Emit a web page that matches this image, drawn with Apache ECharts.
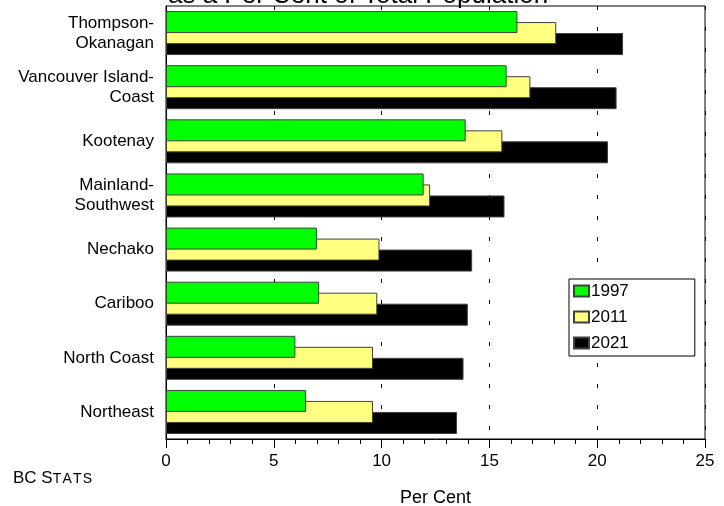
<!DOCTYPE html>
<html>
<head>
<meta charset="utf-8">
<script src="https://cdn.jsdelivr.net/npm/echarts@6/dist/echarts.min.js"></script>
<style>
  html, body { margin: 0; padding: 0; background: #fff; }
  #chart { width: 724px; height: 506px; }
</style>
</head>
<body>
<div id="chart"></div>
<script>
// Regions of British Columbia, top to bottom
const regions = [
  'Thompson-\nOkanagan',
  'Vancouver Island-\nCoast',
  'Kootenay',
  'Mainland-\nSouthwest',
  'Nechako',
  'Cariboo',
  'North Coast',
  'Northeast'
];

// Per cent of total population, by year
const pct1997 = [16.3, 15.8, 13.9, 11.95, 7.0, 7.1, 6.0, 6.5];
const pct2011 = [18.1, 16.9, 15.6, 12.25, 9.9, 9.8, 9.6, 9.6];
const pct2021 = [21.2, 20.9, 20.5, 15.7, 14.2, 14.0, 13.8, 13.5];

const years = ['1997', '2011', '2021'];
const colours = ['#00ff00', '#ffff80', '#000000'];
const xTicks = { min: 0, max: 25, step: 5 };

const FONT = 'Liberation Sans, Arial, sans-serif';

const chart = echarts.init(document.getElementById('chart'), null, { renderer: 'canvas' });

function barSeries(name, data, colour, z) {
  return {
    name: name,
    type: 'bar',
    data: data,
    barWidth: 22,
    barGap: '-50%',
    z: z,
    itemStyle: { color: colour, borderColor: '#404040', borderWidth: 1 },
    emphasis: { disabled: true }
  };
}

chart.setOption({
  animation: false,
  backgroundColor: '#ffffff',
  textStyle: { fontFamily: FONT },
  grid: {
    left: 166, right: 19, top: 6, bottom: 67,
    outerBoundsMode: 'none',
    containLabel: false,
    show: true, borderColor: '#000', borderWidth: 1, backgroundColor: 'transparent'
  },
  legend: {
    data: years,
    orient: 'vertical',
    left: 569, top: 279,
    padding: [3, 66, 4, 4],
    itemWidth: 15, itemHeight: 11, itemGap: 8,
    icon: 'rect',
    backgroundColor: '#fff',
    borderColor: '#000', borderWidth: 1,
    textStyle: { fontSize: 17, lineHeight: 18, color: '#000', fontFamily: FONT, padding: [0, 0, 0, -3] }
  },
  xAxis: {
    type: 'value',
    min: xTicks.min, max: xTicks.max, interval: xTicks.step,
    name: 'Per Cent',
    nameLocation: 'middle',
    nameGap: 50,
    nameTextStyle: { fontSize: 18, color: '#000', fontFamily: FONT },
    axisLine: { show: true, lineStyle: { color: '#000', width: 1 } },
    axisTick: { show: true, inside: false, length: 9, lineStyle: { color: '#000' } },
    minorTick: { show: true, splitNumber: 5, length: 5, lineStyle: { color: '#000' } },
    axisLabel: { fontSize: 17, color: '#000', margin: 14, fontFamily: FONT },
    splitLine: { show: true, lineStyle: { color: '#000', width: 1, type: [4, 17] } }
  },
  yAxis: {
    type: 'category',
    data: regions,
    inverse: true,
    axisLine: { show: true, lineStyle: { color: '#000', width: 1 } },
    axisTick: { show: false },
    axisLabel: { fontSize: 17, lineHeight: 20, color: '#000', margin: 12, align: 'right', fontFamily: FONT },
    splitLine: { show: false }
  },
  graphic: [
    {
      type: 'text', x: 168, y: 9,
      style: { text: 'as a Per Cent of Total Population', font: '26px ' + FONT, fill: '#000', verticalAlign: 'bottom' }
    },
    {
      type: 'text', x: 13, y: 478,
      style: {
        text: '{a|BC S}{b|T}{b|A}{b|T}{b|S}',
        verticalAlign: 'middle',
        rich: {
          a: { fontSize: 17, lineHeight: 17, fontFamily: FONT, fill: '#000', verticalAlign: 'bottom' },
          b: { fontSize: 14, lineHeight: 14, fontFamily: FONT, fill: '#000', verticalAlign: 'bottom', padding: [0, 1.2, 0, 0] }
        }
      }
    }
  ],
  series: [
    barSeries(years[0], pct1997, colours[0], 4),
    barSeries(years[1], pct2011, colours[1], 3),
    barSeries(years[2], pct2021, colours[2], 2)
  ]
});
</script>
</body>
</html>
